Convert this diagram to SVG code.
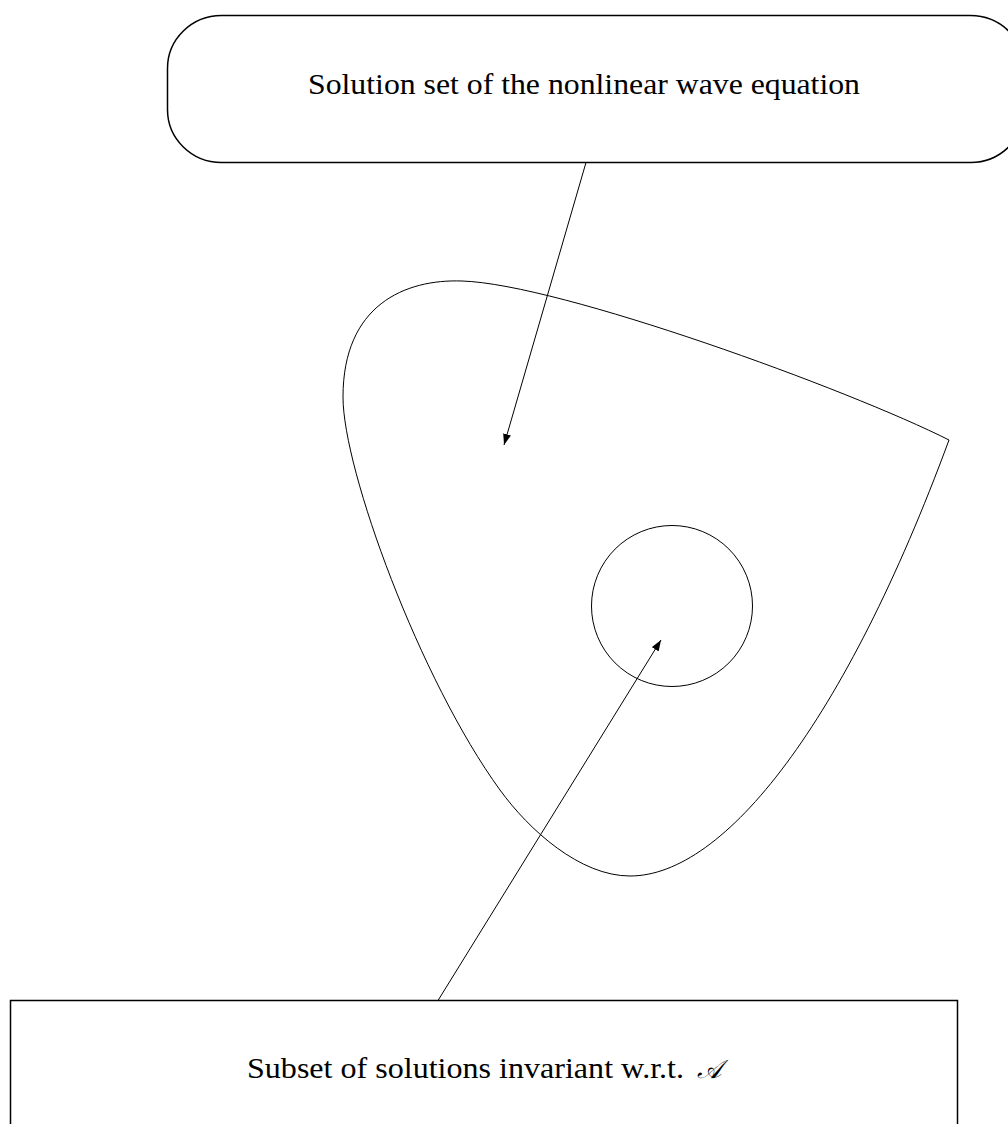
<svg xmlns="http://www.w3.org/2000/svg" width="1008" height="1124" viewBox="0 0 1008 1124">
  <style>
    .box { fill: none; stroke: #000; stroke-width: 1.5; }
    .shape { fill: none; stroke: #000; stroke-width: 1; }
    .conn { fill: none; stroke: #000; stroke-width: 1; }
    .label { font-family: "Liberation Serif", "DejaVu Serif", serif; font-size: 30px; fill: #000; }
  </style>
  <defs>
    <marker id="arrow" markerUnits="userSpaceOnUse" markerWidth="12" markerHeight="8" refX="11" refY="4" orient="auto">
      <path d="M0,0 L11,4 L0,8 Z" fill="#000"/>
    </marker>
  </defs>
  <rect width="1008" height="1124" fill="#fff"/>

  <g id="solution-set-label">
    <rect class="box" x="167.5" y="15.5" width="857" height="147" rx="54" ry="53"/>
    <text class="label" x="308" y="94" textLength="552" lengthAdjust="spacingAndGlyphs">Solution set of the nonlinear wave equation</text>
  </g>

  <g id="solution-set-region">
    <path class="shape" d="M949,440 C850,390 560,284 462,281 C405,279 343,305 343,397 C343,470 420,680 500,790 C529,830 580,876 630,876 C725,876 845,722 949,440 Z"/>
  </g>

  <g id="invariant-subset-region">
    <circle class="shape" cx="672" cy="606" r="80.5"/>
  </g>

  <g id="invariant-subset-label">
    <rect class="box" x="10.5" y="1000.5" width="947" height="140"/>
    <text class="label" x="247" y="1078"><tspan textLength="437" lengthAdjust="spacingAndGlyphs">Subset of solutions invariant w.r.t.</tspan><tspan x="697" font-size="26" font-family="DejaVu Serif, DejaVu Sans, serif" font-style="italic">𝒜</tspan></text>
  </g>

  <g id="connectors">
    <line class="conn" x1="586" y1="162.5" x2="504" y2="445" marker-end="url(#arrow)"/>
    <line class="conn" x1="438" y1="1000.5" x2="661" y2="640" marker-end="url(#arrow)"/>
  </g>
</svg>
